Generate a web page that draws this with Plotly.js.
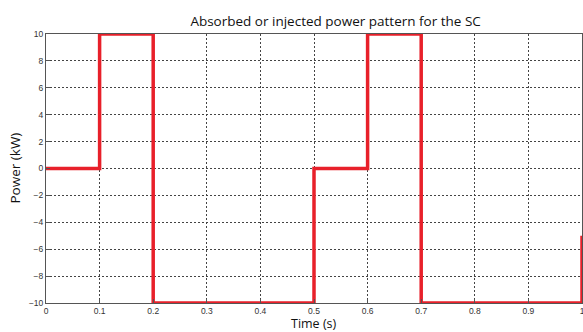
<!DOCTYPE html>
<html>
<head>
<meta charset="utf-8">
<script src="https://cdn.plot.ly/plotly-3.0.1.min.js"></script>
<style>
  html, body { margin: 0; padding: 0; background: #fff; }
  #chart { width: 583px; height: 332px; }
</style>
</head>
<body>
<div id="chart"></div>
<script>
// Step pattern of power absorbed/injected by the supercapacitor
const timeS = [0, 0.1, 0.1, 0.2, 0.2, 0.5, 0.5, 0.6, 0.6, 0.7, 0.7, 1.0, 1.0];
const powerKW = [0, 0, 10, 10, -10, -10, 0, 0, 10, 10, -10, -10, -5];

const xTicks = [0, 0.1, 0.2, 0.3, 0.4, 0.5, 0.6, 0.7, 0.8, 0.9, 1];
const xTickText = ['0', '0.1', '0.2', '0.3', '0.4', '0.5', '0.6', '0.7', '0.8', '0.9', '1'];
const yTicks = [-10, -8, -6, -4, -2, 0, 2, 4, 6, 8, 10];

const tickFont = { family: 'Liberation Sans, Arial, sans-serif', size: 8.5, color: '#333' };
const labelFont = { family: 'Open Sans, DejaVu Sans, sans-serif', size: 13.5, color: '#111' };
const xTitleFont = { family: 'Open Sans, DejaVu Sans, sans-serif', size: 12.5, color: '#111' };

const trace = {
  x: timeS,
  y: powerKW,
  type: 'scatter',
  mode: 'lines',
  line: { color: '#e8202a', width: 3.5 },
  cliponaxis: false,
  hoverinfo: 'skip'
};

const axisCommon = {
  showline: true,
  linecolor: '#555',
  linewidth: 1,
  mirror: true,
  ticks: 'inside',
  ticklen: 4,
  tickcolor: '#555',
  showgrid: true,
  gridcolor: '#444',
  griddash: '2px,2px',
  gridwidth: 1,
  zeroline: false,
  ticklabeloverflow: 'allow',
  tickfont: tickFont
};

const layout = {
  width: 583,
  height: 332,
  margin: { l: 46, r: 1, t: 34, b: 29 },
  paper_bgcolor: '#fff',
  plot_bgcolor: '#fff',
  showlegend: false,
  title: {
    text: 'Absorbed or injected power pattern for the SC',
    font: labelFont,
    xref: 'paper',
    x: 315 / 583,
    xanchor: 'center',
    yref: 'container',
    y: 1 - 21 / 332,
    yanchor: 'middle'
  },
  xaxis: Object.assign({}, axisCommon, {
    range: [0, 1],
    tickvals: xTicks,
    ticktext: xTickText,
    ticklabelstandoff: 0
  }),
  yaxis: Object.assign({}, axisCommon, {
    range: [-10, 10],
    tickvals: yTicks
  }),
  annotations: [
    {
      text: 'Time (s)',
      font: xTitleFont,
      xref: 'paper', yref: 'paper',
      x: 0.5, y: 0,
      xanchor: 'center', yanchor: 'top',
      yshift: -11,
      borderpad: 0,
      showarrow: false
    },
    {
      text: 'Power (kW)',
      font: labelFont,
      textangle: -90,
      xref: 'paper', yref: 'paper',
      x: 0, y: 0.5,
      xanchor: 'center', yanchor: 'middle',
      xshift: -32,
      showarrow: false
    }
  ]
};

Plotly.newPlot('chart', [trace], layout, { staticPlot: true, displayModeBar: false });
</script>
</body>
</html>
